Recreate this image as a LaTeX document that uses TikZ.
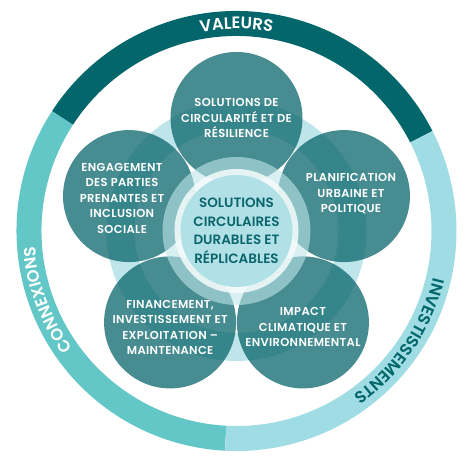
\documentclass[tikz,border=0pt]{standalone}
\usepackage{fontspec}
\setmainfont{Poppins}[BoldFont={Poppins SemiBold}]
\usetikzlibrary{decorations.text}
\definecolor{valeurs}{HTML}{03666B}
\definecolor{connex}{HTML}{62C7C6}
\definecolor{invest}{HTML}{9FDCE4}
\definecolor{petalc}{RGB}{8,101,107}
\definecolor{pale}{HTML}{BEE6EA}
\definecolor{coeur}{HTML}{A6DEE5}
\definecolor{txtdark}{HTML}{0A666C}
\tikzset{
	petal/.style={circle,fill=petalc,fill opacity=0.75,minimum size=132pt,inner sep=0pt},
	petaltext/.style={text=white,font=\bfseries\fontsize{11.5}{15.5}\selectfont\addfontfeatures{LetterSpace=3},align=center},
	ringlabel/.style={decorate,decoration={text along path,text align=center,text={#1}}}
}

\begin{document}
\begin{tikzpicture}[x=1pt,y=1pt]
	\useasboundingbox (-236.5,-231) rectangle (231.5,231);
	% outer ring
	\draw[valeurs,line width=25pt] (27:207.5) arc[start angle=27,end angle=147,radius=207.5];
	\draw[connex,line width=25pt] (147:207.5) arc[start angle=147,end angle=267,radius=207.5];
	\draw[invest,line width=25pt] (267:207.5) arc[start angle=267,end angle=387,radius=207.5];
	\path[ringlabel={|\bfseries\fontsize{16.5}{16}\selectfont\color{white}|VALEURS}] (150:202) arc[start angle=150,end angle=30,radius=202];
	\path[ringlabel={|\bfseries\fontsize{16.5}{16}\selectfont\color{white}|CONNEXIONS}] (260:202) arc[start angle=260,end angle=140,radius=202];
	\path[ringlabel={|\bfseries\fontsize{16.5}{16}\selectfont\color{valeurs}|INVESTISSEMENTS}] (26:202) arc[start angle=26,end angle=-94,radius=202];
	% petals
	\draw[pale,line width=28pt] (0,0) circle[radius=116];
	\foreach \a/\n in {90/1,18/2,-54/3,-126/4,162/5}
		\node[petal] (p\n) at (\a:113) {};
	\fill[pale,fill opacity=0.6] (0,0) circle[radius=74];
	\fill[white!90!coeur,fill opacity=0.85] (0,0) circle[radius=62];
	\node[circle,fill=coeur,fill opacity=0.85,text opacity=1,minimum size=112pt,inner sep=0pt,
		text=txtdark,font=\bfseries\fontsize{13.5}{18.5}\selectfont,align=center] (coeur) at (0,0)
		{SOLUTIONS\\CIRCULAIRES\\DURABLES ET\\RÉPLICABLES};
	\node[petaltext] (t1) at (p1) {SOLUTIONS DE\\CIRCULARITÉ ET DE\\RÉSILIENCE};
	\node[petaltext] (t2) at ([xshift=7pt,yshift=2pt]p2.center) {PLANIFICATION\\URBAINE ET\\POLITIQUE};
	\node[petaltext] (t3) at ([yshift=-5pt]p3.center) {IMPACT\\CLIMATIQUE ET\\ENVIRONNEMENTAL};
	\node[petaltext] (t4) at ([yshift=-5pt]p4.center) {FINANCEMENT,\\INVESTISSEMENT ET\\EXPLOITATION –\\MAINTENANCE};
	\node[petaltext] (t5) at ([xshift=-7pt,yshift=-2pt]p5.center) {ENGAGEMENT\\DES PARTIES\\PRENANTES ET\\INCLUSION\\SOCIALE};
\end{tikzpicture}
\end{document}
